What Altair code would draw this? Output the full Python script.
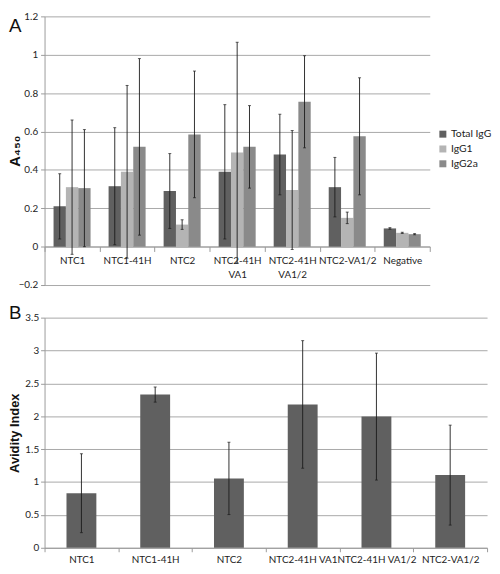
import altair as alt
import pandas as pd

# ---------------- Panel A data ----------------
cats_a = ["NTC1", "NTC1-41H", "NTC2", "NTC2-41H\nVA1", "NTC2-41H\nVA1/2", "NTC2-VA1/2", "Negative"]
series = ["Total IgG", "IgG1", "IgG2a"]
total_igg = [0.21, 0.315, 0.29, 0.39, 0.48, 0.31, 0.095]
total_err = [0.17, 0.305, 0.195, 0.35, 0.21, 0.155, 0.004]
igg1 = [0.31, 0.39, 0.115, 0.49, 0.295, 0.15, 0.072]
igg1_err = [0.35, 0.45, 0.025, 0.575, 0.31, 0.03, 0.003]
igg2a = [0.305, 0.52, 0.585, 0.52, 0.755, 0.575, 0.065]
igg2a_err = [0.305, 0.46, 0.33, 0.215, 0.24, 0.305, 0.003]
ticks_a = [-0.2, 0.0, 0.2, 0.4, 0.6, 0.8, 1.0, 1.2]

# ---------------- Panel B data ----------------
cats_b = ["NTC1", "NTC1-41H", "NTC2", "NTC2-41H VA1", "NTC2-41H VA1/2", "NTC2-VA1/2"]
avidity = [0.83, 2.33, 1.055, 2.18, 1.995, 1.105]
avidity_err = [0.6, 0.115, 0.55, 0.97, 0.965, 0.76]
ticks_b = [0.0, 0.5, 1.0, 1.5, 2.0, 2.5, 3.0, 3.5]

colors = ["#606060", "#b4b4b4", "#8a8a8a"]

rows = []
for s, vals, errs in zip(series, [total_igg, igg1, igg2a], [total_err, igg1_err, igg2a_err]):
    for c, v, e in zip(cats_a, vals, errs):
        rows.append({"cat": c, "series": s, "value": v, "lo": v - e, "hi": v + e})
dfA = pd.DataFrame(rows)

dfB = pd.DataFrame({"cat": cats_b, "value": avidity,
                    "lo": [v - e for v, e in zip(avidity, avidity_err)],
                    "hi": [v + e for v, e in zip(avidity, avidity_err)]})

WA, HA = 390, 272
WB, HB = 448, 233
zero_off = -round(HA * 0.2 / 1.4)
LABEL_FONT = "Lato"

xA = alt.X("cat:N", sort=cats_a, title=None,
           scale=alt.Scale(paddingInner=0, paddingOuter=0),
           axis=alt.Axis(labelExpr="split(datum.label, '\\n')", labelAngle=0,
                         offset=zero_off, tickBand="extent", tickSize=5,
                         labelPadding=4, labelLineHeight=14, grid=False))
xoA = alt.XOffset("series:N", sort=series,
                  scale=alt.Scale(paddingOuter=0.73, paddingInner=0))
yscaleA = alt.Scale(domain=[-0.2, 1.2], nice=False)
yaxisA = alt.Axis(values=ticks_a, format=".1~f", title="A₄₅₀",
                  tickSize=4, labelPadding=3, titleFontSize=15,
                  titleX=-30, titleY=HA / 2, titleBaseline="middle",
                  titleAngle=-90)

baseA = alt.Chart(dfA)
barsA = baseA.mark_bar().encode(
    x=xA, xOffset=xoA,
    y=alt.Y("value:Q", scale=yscaleA, axis=yaxisA, title="A₄₅₀"),
    color=alt.Color("series:N", sort=series,
                    scale=alt.Scale(domain=series, range=colors),
                    legend=alt.Legend(title=None, orient="none", legendX=398, legendY=114,
                                      symbolType="square", symbolSize=50,
                                      labelFontSize=10.5, rowPadding=4, labelOffset=3)),
)
errA = baseA.mark_rule(color="#1a1a1a", strokeWidth=0.9).encode(
    x=xA, xOffset=xoA, y=alt.Y("lo:Q", scale=yscaleA, axis=yaxisA, title="A₄₅₀"), y2="hi:Q")
capHiA = baseA.mark_tick(color="#1a1a1a", size=3, thickness=1).encode(
    x=xA, xOffset=xoA, y=alt.Y("hi:Q", scale=yscaleA, axis=yaxisA, title="A₄₅₀"))
capLoA = baseA.mark_tick(color="#1a1a1a", size=3, thickness=1).encode(
    x=xA, xOffset=xoA, y=alt.Y("lo:Q", scale=yscaleA, axis=yaxisA, title="A₄₅₀"))
letterA = alt.Chart(pd.DataFrame({"t": ["A"]})).mark_text(
    font="Liberation Sans", fontSize=19, align="left", baseline="top", color="#111"
).encode(text="t:N", x=alt.value(-36), y=alt.value(1))

chartA = alt.layer(barsA, errA, capHiA, capLoA, letterA).properties(width=WA, height=HA)

# ---------------- Panel B ----------------
xB = alt.X("cat:N", sort=cats_b, title=None,
           scale=alt.Scale(paddingInner=0, paddingOuter=0),
           axis=alt.Axis(labelAngle=0, tickBand="extent", tickSize=4,
                         labelPadding=3, grid=False))
yscaleB = alt.Scale(domain=[0, 3.5], nice=False)
yaxisB = alt.Axis(values=ticks_b, format=".1~f", title="Avidity Index",
                  tickSize=4, labelPadding=2, titleFontSize=13,
                  titleX=-30, titleY=HB / 2, titleBaseline="middle",
                  titleAngle=-90)
baseB = alt.Chart(dfB)
barsB = baseB.mark_bar(color="#606060", width=alt.RelativeBandSize(0.405)).encode(
    x=xB, y=alt.Y("value:Q", scale=yscaleB, axis=yaxisB, title="Avidity Index"))
errB = baseB.mark_rule(color="#1a1a1a", strokeWidth=0.9).encode(
    x=xB, y=alt.Y("lo:Q", scale=yscaleB, axis=yaxisB, title="Avidity Index"), y2="hi:Q")
capHiB = baseB.mark_tick(color="#1a1a1a", size=3, thickness=1).encode(
    x=xB, y=alt.Y("hi:Q", scale=yscaleB, axis=yaxisB, title="Avidity Index"))
capLoB = baseB.mark_tick(color="#1a1a1a", size=3, thickness=1).encode(
    x=xB, y=alt.Y("lo:Q", scale=yscaleB, axis=yaxisB, title="Avidity Index"))
letterB = alt.Chart(pd.DataFrame({"t": ["B"]})).mark_text(
    font="Liberation Sans", fontSize=19, align="left", baseline="top", color="#111"
).encode(text="t:N", x=alt.value(-36), y=alt.value(-14))

chartB = alt.layer(barsB, errB, capHiB, capLoB, letterB).properties(width=WB, height=HB)

chart = alt.vconcat(chartA, chartB, spacing=14, padding=0).configure_view(
    stroke=None
).configure_axis(
    labelFont=LABEL_FONT, labelFontSize=10, labelColor="#222222",
    titleFont="Liberation Sans", titleFontWeight="bold", titleColor="#111111",
    gridColor="#a8a8a8", domainColor="#9a9a9a", tickColor="#9a9a9a"
).configure_legend(
    labelFont=LABEL_FONT, labelColor="#222222"
)

chart.save("out.html", embed_options={"renderer": "svg", "actions": False})
